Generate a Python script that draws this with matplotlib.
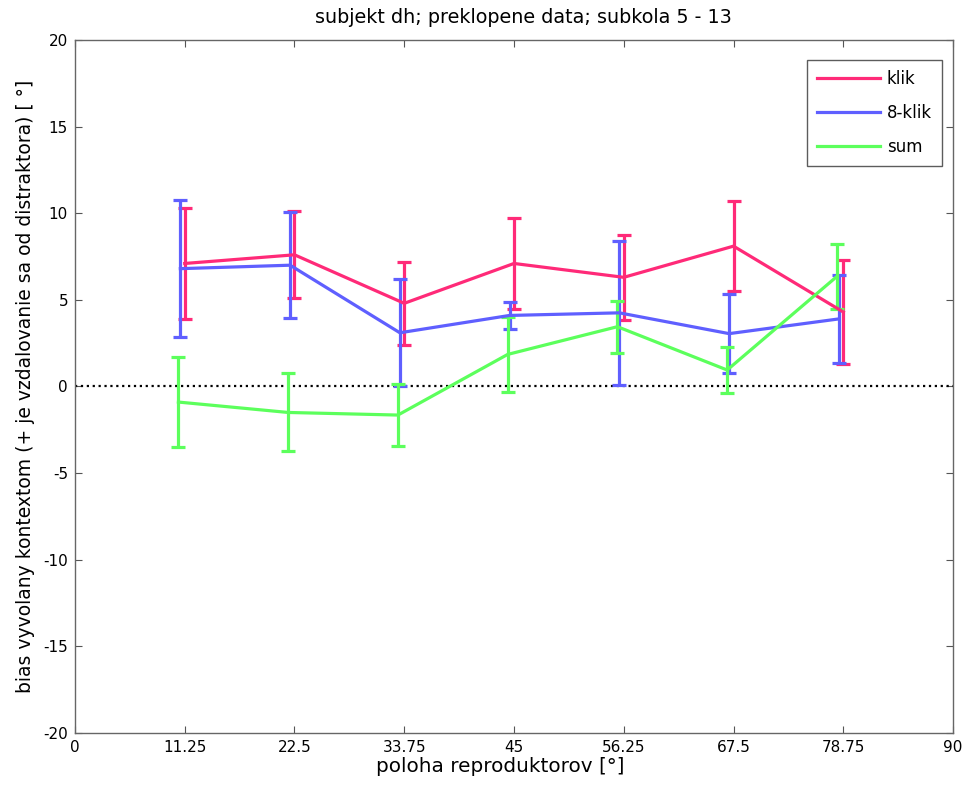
import matplotlib
matplotlib.use("Agg")
import matplotlib.pyplot as plt

plt.rcParams['font.family'] = ['DejaVu Sans']
plt.rcParams['axes.unicode_minus'] = False

positions = [11.25, 22.5, 33.75, 45, 56.25, 67.5, 78.75]
labels = ['klik', '8-klik', 'sum']

klik_mean = [7.1, 7.6, 4.8, 7.1, 6.3, 8.1, 4.3]
klik_err = [3.2, 2.5, 2.4, 2.6, 2.45, 2.6, 3.0]
klik8_mean = [6.8, 7.0, 3.1, 4.1, 4.25, 3.05, 3.9]
klik8_err = [3.95, 3.05, 3.1, 0.8, 4.15, 2.3, 2.55]
sum_mean = [-0.9, -1.5, -1.65, 1.85, 3.45, 0.95, 6.35]
sum_err = [2.6, 2.25, 1.8, 2.15, 1.5, 1.3, 1.9]

colors = ['#ff2a78', '#5f5fff', '#5cff5c']
shifts = [0.0, -0.45, -0.65]

fig = plt.figure(figsize=(9.7, 7.98), dpi=100)
ax = fig.add_axes([0.0773, 0.0815, 0.9052, 0.8684])

ax.plot([0, 90], [0, 0], color='black', linestyle=':', linewidth=1.6)

handles = []
for m, e, c, s, lab in zip([klik_mean, klik8_mean, sum_mean],
                           [klik_err, klik8_err, sum_err],
                           colors, shifts, labels):
    xs = [p + s for p in positions]
    cont = ax.errorbar(xs, m, yerr=e, color=c, linewidth=2.3, elinewidth=2.3,
                       capsize=5, capthick=2.3, label=lab)
    handles.append(cont.lines[0])

ax.set_xlim(0, 90)
ax.set_ylim(-20, 20)
ax.set_xticks([0, 11.25, 22.5, 33.75, 45, 56.25, 67.5, 78.75, 90])
ax.set_xticklabels(['0', '11.25', '22.5', '33.75', '45', '56.25', '67.5', '78.75', '90'])
ax.set_yticks(range(-20, 21, 5))
ax.tick_params(direction='in', top=True, right=True, labelsize=11, length=5, pad=5,
               color='#555555')
for sp in ax.spines.values():
    sp.set_linewidth(1.0)
    sp.set_color('#666666')

ax.set_title('subjekt dh; preklopene data; subkola 5 - 13', fontsize=13.8, pad=12,
             x=0.511)
ax.set_xlabel('poloha reproduktorov [°]', fontsize=14.4, labelpad=2)
ax.xaxis.set_label_coords(0.484, -0.035)
ax.set_ylabel('bias vyvolany kontextom (+ je vzdalovanie sa od distraktora) [ °]',
              fontsize=13.5, labelpad=6)

leg = ax.legend(handles, labels, loc='upper right', fontsize=12, fancybox=False,
                edgecolor='#333333', handlelength=3.8, handletextpad=0.4,
                borderpad=0.6, labelspacing=0.95, borderaxespad=0,
                bbox_to_anchor=(0.9875, 0.971))
leg.get_frame().set_linewidth(1.0)

fig.savefig('out.png', dpi=100)
